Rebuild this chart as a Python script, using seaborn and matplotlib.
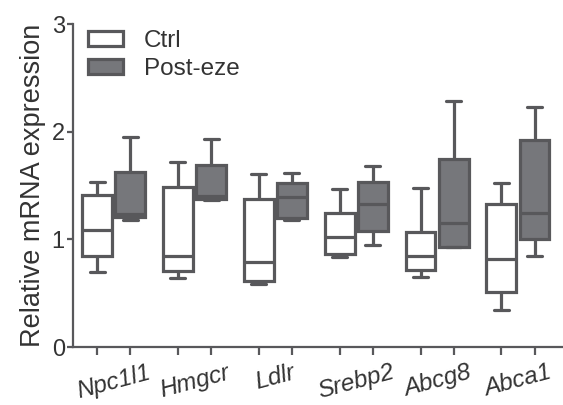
import matplotlib
matplotlib.use("Agg")
import matplotlib.pyplot as plt
from matplotlib.patches import Patch
from matplotlib.ticker import FixedLocator
import numpy as np
import pandas as pd
import seaborn as sns

# Five-number summaries (min, Q1, median, Q3, max) of relative expression
genes = ["Npc1l1", "Hmgcr", "Ldlr", "Srebp2", "Abcg8", "Abca1"]
groups = ["Ctrl", "Post-eze"]
ctrl_values = [
    [0.70, 0.85, 1.09, 1.41, 1.53],
    [0.64, 0.71, 0.845, 1.49, 1.72],
    [0.585, 0.61, 0.79, 1.38, 1.61],
    [0.84, 0.86, 1.02, 1.25, 1.47],
    [0.65, 0.72, 0.85, 1.07, 1.48],
    [0.34, 0.51, 0.82, 1.33, 1.52],
]
post_values = [
    [1.18, 1.21, 1.24, 1.63, 1.95],
    [1.37, 1.38, 1.40, 1.69, 1.93],
    [1.18, 1.20, 1.39, 1.52, 1.62],
    [0.95, 1.08, 1.33, 1.53, 1.68],
    [0.93, 0.93, 1.15, 1.75, 2.29],
    [0.85, 1.00, 1.25, 1.92, 2.23],
]
y_ticks = [0, 1, 2, 3]

rows = []
for group, table in zip(groups, [ctrl_values, post_values]):
    for gene, vals in zip(genes, table):
        for v in vals:
            rows.append({"gene": gene, "group": group, "value": v})
df = pd.DataFrame(rows)

edge = "#58585b"
text_color = "#333333"
fills = {"Ctrl": "#ffffff", "Post-eze": "#76777b"}

sns.set_style("ticks")
plt.rcParams["font.family"] = ["Liberation Sans", "DejaVu Sans"]

fig = plt.figure(figsize=(5.63, 4.05), dpi=100)
ax = fig.add_axes([0.130, 0.143, 0.869, 0.7975])

lw = 2.3
sns.boxplot(
    data=df, x="gene", y="value", hue="group", order=genes, hue_order=groups,
    palette=fills, whis=(0, 100), width=0.82, gap=0.1, linewidth=lw,
    linecolor=edge, saturation=1, showfliers=False, legend=False, ax=ax,
    medianprops={"color": edge, "linewidth": lw},
    whiskerprops={"color": edge, "linewidth": lw},
    capprops={"color": edge, "linewidth": lw},
    boxprops={"edgecolor": edge, "linewidth": lw},
)

# tick marks under every box, gene names centred under each pair
box_centers = sorted(
    0.5 * (p.get_path().get_extents().x0 + p.get_path().get_extents().x1)
    for p in ax.patches
)
ax.xaxis.set_minor_locator(FixedLocator(box_centers))
ax.set_xticks(range(len(genes)))
ax.set_xticklabels(genes, rotation=15, ha="center", fontsize=17.5,
                   style="italic", color=text_color)
ax.tick_params(axis="x", which="major", length=0, pad=10)
ax.tick_params(axis="x", which="minor", length=6, width=1.6, color=edge, direction="out")

ax.set_ylim(0, 3)
ax.set_xlim(-0.5, 5.55)
ax.set_yticks(y_ticks)
ax.set_yticklabels([str(t) for t in y_ticks], fontsize=17, color=text_color)
ax.tick_params(axis="y", length=4, width=1.6, color=edge, pad=2)

ax.set_xlabel("")
ax.set_ylabel("Relative mRNA expression", fontsize=19.5, color=text_color, labelpad=4)

sns.despine(ax=ax)
for side in ("left", "bottom"):
    ax.spines[side].set_linewidth(1.6)
    ax.spines[side].set_color(edge)

handles = [Patch(facecolor=fills[g], edgecolor=edge, linewidth=lw, label=g) for g in groups]
leg = ax.legend(
    handles=handles, loc="upper left", bbox_to_anchor=(0.01, 1.012), frameon=False,
    fontsize=17.5, handlelength=1.45, handleheight=0.6, handletextpad=0.85,
    labelspacing=0.25, borderaxespad=0.0,
)
for t in leg.get_texts():
    t.set_color(text_color)

fig.savefig("out.png", dpi=100)
